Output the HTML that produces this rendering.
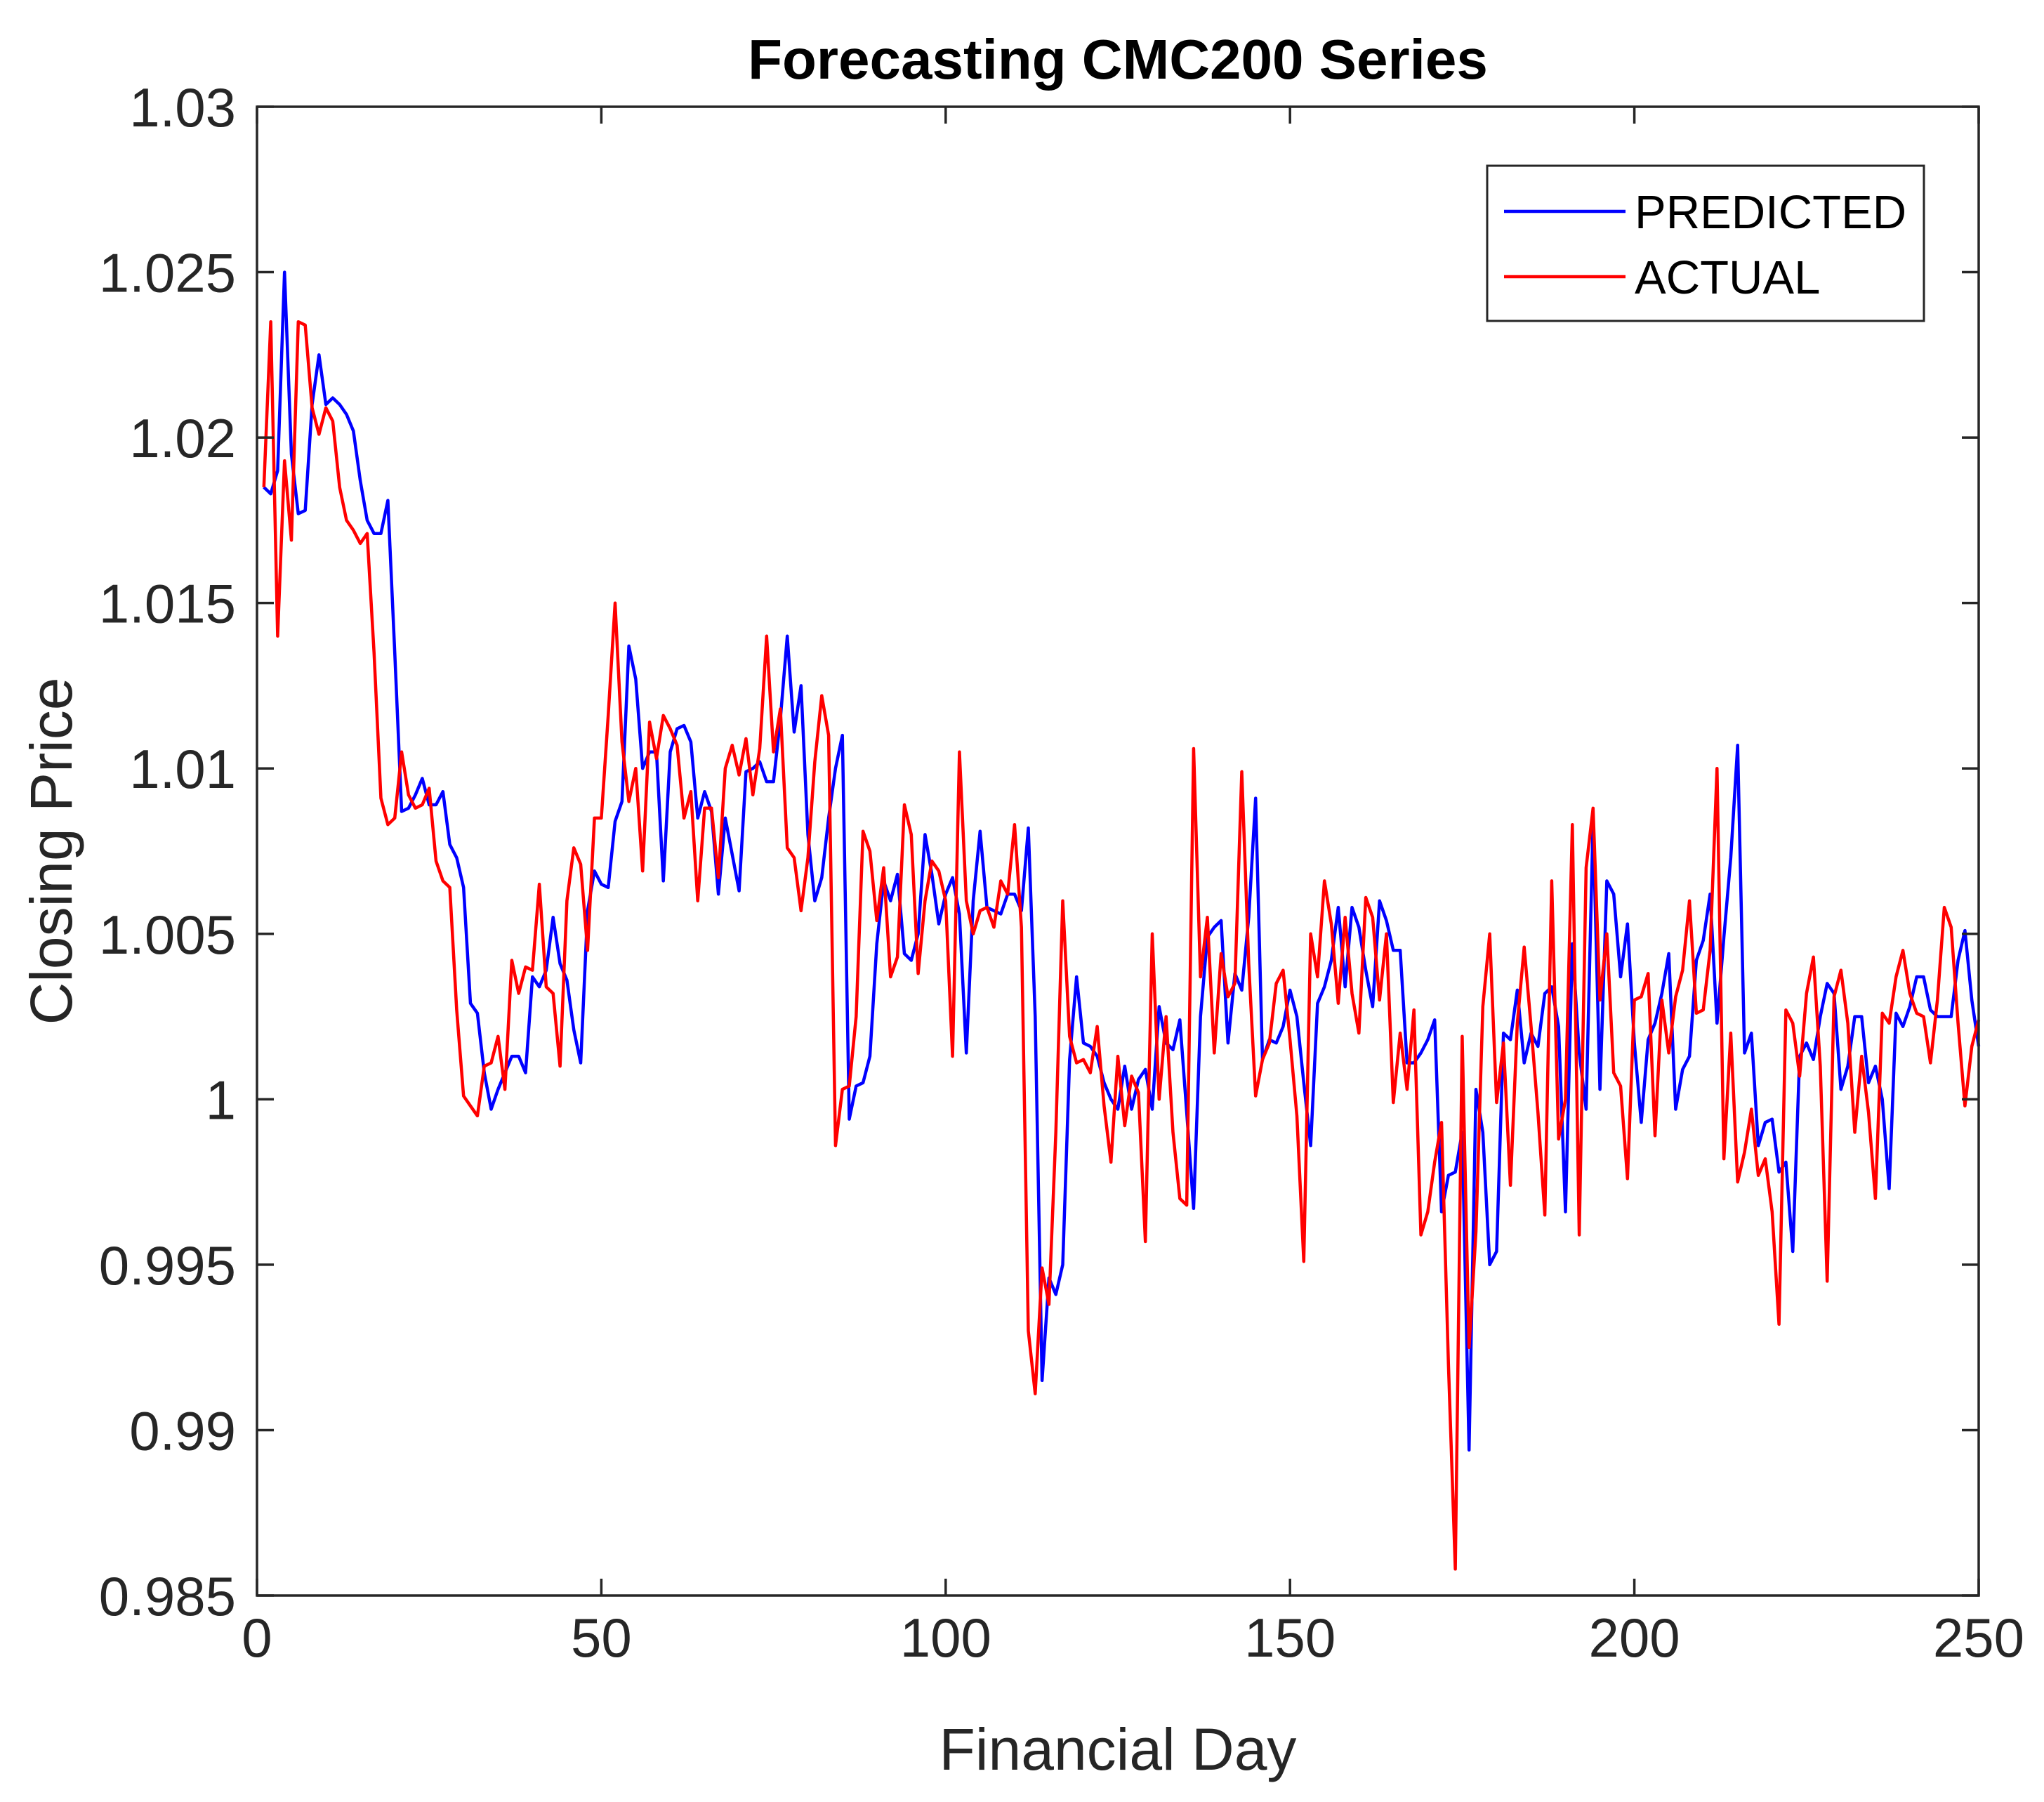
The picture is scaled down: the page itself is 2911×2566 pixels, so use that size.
<!DOCTYPE html>
<html><head><meta charset="utf-8"><style>
html,body{margin:0;padding:0;background:#fff;}
svg{display:block;font-family:"Liberation Sans",Arial,sans-serif;}
</style></head><body>
<svg id="chart" width="2911" height="2566" viewBox="0 0 2911 2566" xmlns="http://www.w3.org/2000/svg">
<rect x="0" y="0" width="2911" height="2566" fill="#fff"/>
<g id="series"></g>
<rect x="366" y="152" width="2452" height="2120" fill="none" stroke="#262626" stroke-width="3.5"/>
<g id="ticks"></g>
<text x="1592" y="112" text-anchor="middle" font-size="80" font-weight="bold" fill="#000">Forecasting CMC200 Series</text>
<text x="1592" y="2520" text-anchor="middle" font-size="84" fill="#262626">Financial Day</text>
<text transform="translate(102,1212) rotate(-90)" text-anchor="middle" font-size="84" fill="#262626">Closing Price</text>
<g>
<rect x="2118" y="236" width="622" height="221" fill="#fff" stroke="#262626" stroke-width="3"/>
<g>
<line x1="2142" y1="301" x2="2315" y2="301" stroke="#0000ff" stroke-width="4.5"/>
<text x="2328" y="325" font-size="67" fill="#000">PREDICTED</text>
</g>
<g>
<line x1="2142" y1="394" x2="2315" y2="394" stroke="#ff0000" stroke-width="4.5"/>
<text x="2328" y="418" font-size="67" fill="#000">ACTUAL</text>
</g>
</g>
</svg>
<script>
const xTicks = [0, 50, 100, 150, 200, 250];
const yTicks = [0.985, 0.99, 0.995, 1, 1.005, 1.01, 1.015, 1.02, 1.025, 1.03];
const yTickLabels = ["0.985","0.99","0.995","1","1.005","1.01","1.015","1.02","1.025","1.03"];
const predicted = [1.0185,1.0183,1.0190,1.0250,1.0195,1.0177,1.0178,1.0210,1.0225,1.0210,
1.0212,1.0210,1.0207,1.0202,1.0187,1.0175,1.0171,1.0171,1.0181,1.0135,
1.0087,1.0088,1.0092,1.0097,1.0089,1.0089,1.0093,1.0077,1.0073,1.0064,
1.0029,1.0026,1.0008,0.9997,1.0003,1.0008,1.0013,1.0013,1.0008,1.0037,
1.0034,1.0039,1.0055,1.0041,1.0036,1.0021,1.0011,1.0057,1.0069,1.0065,
1.0064,1.0084,1.0090,1.0137,1.0127,1.0100,1.0105,1.0105,1.0066,1.0105,
1.0112,1.0113,1.0108,1.0085,1.0093,1.0087,1.0062,1.0085,1.0074,1.0063,
1.0099,1.0100,1.0102,1.0096,1.0096,1.0115,1.0140,1.0111,1.0125,1.0080,
1.0060,1.0067,1.0085,1.0100,1.0110,0.9994,1.0004,1.0005,1.0013,1.0047,
1.0066,1.0060,1.0068,1.0044,1.0042,1.0050,1.0080,1.0068,1.0053,1.0062,
1.0067,1.0056,1.0014,1.0060,1.0081,1.0058,1.0057,1.0056,1.0062,1.0062,
1.0057,1.0082,1.0025,0.9915,0.9946,0.9941,0.9950,1.0012,1.0037,1.0017,
1.0016,1.0013,1.0005,1.0000,0.9997,1.0010,0.9997,1.0006,1.0009,0.9997,
1.0028,1.0017,1.0015,1.0024,0.9996,0.9967,1.0025,1.0049,1.0052,1.0054,
1.0017,1.0038,1.0033,1.0055,1.0091,1.0012,1.0018,1.0017,1.0022,1.0033,
1.0025,1.0005,0.9986,1.0029,1.0034,1.0042,1.0058,1.0034,1.0058,1.0052,
1.0039,1.0028,1.0060,1.0054,1.0045,1.0045,1.0011,1.0011,1.0014,1.0018,
1.0024,0.9966,0.9977,0.9978,0.9990,0.9894,1.0003,0.9990,0.9950,0.9954,
1.0020,1.0018,1.0033,1.0011,1.0020,1.0016,1.0032,1.0034,1.0022,0.9966,
1.0047,1.0014,0.9997,1.0084,1.0003,1.0066,1.0062,1.0037,1.0053,1.0017,
0.9993,1.0018,1.0023,1.0032,1.0044,0.9997,1.0009,1.0013,1.0042,1.0048,
1.0062,1.0023,1.0049,1.0073,1.0107,1.0014,1.0020,0.9986,0.9993,0.9994,
0.9978,0.9981,0.9954,1.0013,1.0017,1.0012,1.0025,1.0035,1.0032,1.0003,
1.0010,1.0025,1.0025,1.0005,1.0010,1.0000,0.9973,1.0026,1.0022,1.0028,
1.0037,1.0037,1.0027,1.0025,1.0025,1.0025,1.0042,1.0051,1.0030,1.0016];
const actual = [1.0185,1.0235,1.0140,1.0193,1.0169,1.0235,1.0234,1.0209,1.0201,1.0209,
1.0205,1.0185,1.0175,1.0172,1.0168,1.0171,1.0135,1.0091,1.0083,1.0085,
1.0105,1.0092,1.0088,1.0089,1.0094,1.0072,1.0066,1.0064,1.0027,1.0001,
0.9998,0.9995,1.0010,1.0011,1.0019,1.0003,1.0042,1.0032,1.0040,1.0039,
1.0065,1.0034,1.0032,1.0010,1.0060,1.0076,1.0071,1.0045,1.0085,1.0085,
1.0116,1.0150,1.0108,1.0090,1.0100,1.0069,1.0114,1.0103,1.0116,1.0112,
1.0107,1.0085,1.0093,1.0060,1.0088,1.0088,1.0067,1.0100,1.0107,1.0098,
1.0109,1.0092,1.0106,1.0140,1.0105,1.0118,1.0076,1.0073,1.0057,1.0073,
1.0102,1.0122,1.0110,0.9986,1.0003,1.0004,1.0025,1.0081,1.0075,1.0054,
1.0070,1.0037,1.0043,1.0089,1.0080,1.0038,1.0060,1.0072,1.0069,1.0060,
1.0013,1.0105,1.0060,1.0050,1.0057,1.0058,1.0052,1.0066,1.0062,1.0083,
1.0052,0.9930,0.9911,0.9949,0.9938,0.9990,1.0060,1.0019,1.0011,1.0012,
1.0008,1.0022,0.9998,0.9981,1.0013,0.9992,1.0007,1.0002,0.9957,1.0050,
1.0000,1.0025,0.9990,0.9970,0.9968,1.0106,1.0037,1.0055,1.0014,1.0044,
1.0031,1.0035,1.0099,1.0041,1.0001,1.0012,1.0017,1.0035,1.0039,1.0018,
0.9995,0.9951,1.0050,1.0037,1.0066,1.0053,1.0029,1.0055,1.0032,1.0020,
1.0061,1.0055,1.0030,1.0050,0.9999,1.0020,1.0003,1.0027,0.9959,0.9966,
0.9981,0.9993,0.9920,0.9858,1.0019,0.9925,0.9960,1.0028,1.0050,0.9999,
1.0017,0.9974,1.0023,1.0046,1.0022,0.9996,0.9965,1.0066,0.9988,1.0000,
1.0083,0.9959,1.0070,1.0088,1.0030,1.0050,1.0008,1.0004,0.9976,1.0030,
1.0031,1.0038,0.9989,1.0030,1.0014,1.0031,1.0039,1.0060,1.0026,1.0027,
1.0045,1.0100,0.9982,1.0020,0.9975,0.9984,0.9997,0.9977,0.9982,0.9966,
0.9932,1.0027,1.0023,1.0007,1.0032,1.0043,1.0010,0.9945,1.0031,1.0039,
1.0023,0.9990,1.0013,0.9996,0.9970,1.0026,1.0023,1.0037,1.0045,1.0032,
1.0026,1.0025,1.0011,1.0030,1.0058,1.0052,1.0023,0.9998,1.0016,1.0024];

const NS = "http://www.w3.org/2000/svg";
const L = 366, R = 2818, T = 152, B = 2272;
const xMin = 0, xMax = 250, yMin = 0.985, yMax = 1.03;
function xs(v){ return L + (v - xMin) / (xMax - xMin) * (R - L); }
function ys(v){ return B - (v - yMin) / (yMax - yMin) * (B - T); }

const ticks = document.getElementById('ticks');
xTicks.forEach(function(t){
  const x = xs(t);
  const g = document.createElementNS(NS, 'g');
  
  
  g.innerHTML = '<line x1="'+x+'" y1="'+B+'" x2="'+x+'" y2="'+(B-24)+'" stroke="#262626" stroke-width="3.5"/>' +
    '<line x1="'+x+'" y1="'+T+'" x2="'+x+'" y2="'+(T+24)+'" stroke="#262626" stroke-width="3.5"/>' +
    '<text x="'+x+'" y="'+(B+87)+'" text-anchor="middle" font-size="78" fill="#262626">'+t+'</text>';
  ticks.appendChild(g);
});
yTicks.forEach(function(t, i){
  const y = ys(t);
  const g = document.createElementNS(NS, 'g');
  
  
  g.innerHTML = '<line x1="'+L+'" y1="'+y+'" x2="'+(L+24)+'" y2="'+y+'" stroke="#262626" stroke-width="3.5"/>' +
    '<line x1="'+R+'" y1="'+y+'" x2="'+(R-24)+'" y2="'+y+'" stroke="#262626" stroke-width="3.5"/>' +
    '<text x="'+(L-30)+'" y="'+(y+28)+'" text-anchor="end" font-size="78" fill="#262626">'+yTickLabels[i]+'</text>';
  ticks.appendChild(g);
});

const series = document.getElementById('series');
function drawLine(arr, color, name){
  const pts = arr.map(function(v, i){ return xs(i + 1).toFixed(1) + ',' + ys(v).toFixed(1); }).join(' ');
  const pl = document.createElementNS(NS, 'polyline');
  pl.setAttribute('points', pts);
  pl.setAttribute('fill', 'none');
  pl.setAttribute('stroke', color);
  pl.setAttribute('stroke-width', '4.5');
  pl.setAttribute('stroke-linejoin', 'round');
  
  
  series.appendChild(pl);
}
drawLine(predicted, '#0000ff', 'predicted-line');
drawLine(actual, '#ff0000', 'actual-line');
</script>
</body></html>
